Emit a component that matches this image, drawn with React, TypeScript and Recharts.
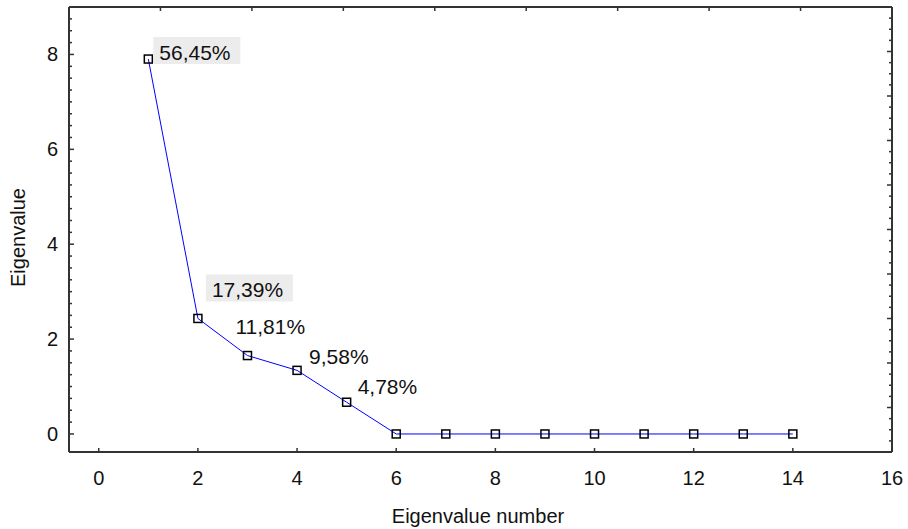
import { LineChart, Line, XAxis, YAxis, LabelList } from "recharts";

const eigenNumbers = [1, 2, 3, 4, 5, 6, 7, 8, 9, 10, 11, 12, 13, 14];
const eigenValues = [7.903, 2.435, 1.653, 1.341, 0.669, 0, 0, 0, 0, 0, 0, 0, 0, 0];
const varianceShare = [56.45, 17.39, 11.81, 9.58, 4.78, null, null, null, null, null, null, null, null, null];

const xTicks = [0, 2, 4, 6, 8, 10, 12, 14, 16];
const yLabelTicks = [0, 2, 4, 6, 8];
const yTicks = Array.from({ length: 36 }, (_, i) => i * 0.25);
const topTicks = [1, 2, 3, 4, 5, 6, 7, 8];
const rightTicks = Array.from({ length: 39 }, (_, i) => i + 1);

const chartData = eigenNumbers.map((n, i) => ({
  n,
  value: eigenValues[i],
  pct: varianceShare[i],
}));

// label placement relative to the point, per eigenvalue
const labelLayout = [
  { dx: 11, dy: 1, bg: true },
  { dx: 14, dy: -21, bg: true },
  { dx: -12, dy: -22, bg: false },
  { dx: 12, dy: -6, bg: false },
  { dx: 11, dy: -8, bg: false },
];

const FONT = "'Liberation Sans', Arial, sans-serif";
const AXIS = "#333333";
const TEXT = "#111111";

const BottomTick = ({ x, y, payload }: any) => (
  <g>
    <line x1={x} x2={x} y1={y} y2={y - 4} stroke={AXIS} strokeWidth={1.5} />
    <text x={x} y={y + 33} textAnchor="middle" fontSize={20} fill={TEXT} fontFamily={FONT}>
      {payload.value}
    </text>
  </g>
);

const LeftTick = ({ x, y, payload }: any) => {
  const major = yLabelTicks.includes(payload.value);
  return (
    <g>
      <line x1={x} x2={x + (major ? 5 : 3)} y1={y} y2={y} stroke={AXIS} strokeWidth={1.5} />
      {major && (
        <text x={x - 11} y={y + 7} textAnchor="end" fontSize={20} fill={TEXT} fontFamily={FONT}>
          {payload.value}
        </text>
      )}
    </g>
  );
};

const TopTick = ({ x, y }: any) => (
  <line x1={x} x2={x} y1={y} y2={y + 4} stroke={AXIS} strokeWidth={1.5} />
);

const RightTick = ({ x, y, payload }: any) => {
  const major = payload.value % 4 === 0;
  return <line x1={x} x2={x - (major ? 5 : 3)} y1={y} y2={y} stroke={AXIS} strokeWidth={1.5} />;
};

const SquareDot = ({ cx, cy, index }: any) => (
  <rect key={index} x={cx - 4} y={cy - 4} width={8} height={8} fill="none" stroke="#000" strokeWidth={1.5} />
);

const PctLabel = ({ x, y, value, index }: any) => {
  if (value === null || value === undefined) return null;
  const lay = labelLayout[index];
  if (!lay) return null;
  const txt = value.toFixed(2).replace(".", ",") + "%";
  const tx = x + lay.dx;
  const ty = y + lay.dy;
  return (
    <g>
      {lay.bg && <rect x={tx - 6} y={ty - 23} width={87} height={27} fill="#ececec" />}
      <text x={tx} y={ty} fontSize={21} fill={TEXT} fontFamily={FONT}>
        {txt}
      </text>
    </g>
  );
};

export default function App() {
  return (
    <div style={{ position: "fixed", left: 0, top: 0, background: "#fff" }}>
      <LineChart
        width={908}
        height={529}
        data={chartData}
        margin={{ top: 6, right: 15, bottom: 0, left: 0 }}
        style={{ fontFamily: FONT }}
      >
        <XAxis
          xAxisId="bottom"
          dataKey="n"
          type="number"
          domain={[-0.6, 16]}
          ticks={xTicks}
          interval={0}
          height={77}
          tickSize={0}
          tickMargin={0}
          tickLine={false}
          tick={<BottomTick />}
          axisLine={{ stroke: AXIS, strokeWidth: 2 }}
          allowDataOverflow
        />
        <XAxis
          xAxisId="top"
          dataKey="n"
          orientation="top"
          type="number"
          domain={[0, 9]}
          ticks={topTicks}
          interval={0}
          height={1}
          tickSize={0}
          tickMargin={0}
          tickLine={false}
          tick={<TopTick />}
          axisLine={{ stroke: AXIS, strokeWidth: 2 }}
          allowDataOverflow
        />
        <YAxis
          yAxisId="left"
          type="number"
          domain={[-0.38, 9]}
          ticks={yTicks}
          interval={0}
          width={69}
          tickSize={0}
          tickMargin={0}
          tickLine={false}
          tick={<LeftTick />}
          axisLine={{ stroke: AXIS, strokeWidth: 2 }}
          allowDataOverflow
          label={{
            value: "Eigenvalue",
            angle: -90,
            position: "insideLeft",
            dx: 13,
            dy: 8,
            style: { fontSize: 20, fill: TEXT, fontFamily: FONT, textAnchor: "middle" },
          }}
        />
        <YAxis
          yAxisId="right"
          orientation="right"
          type="number"
          domain={[0, 40]}
          ticks={rightTicks}
          interval={0}
          width={1}
          tickSize={0}
          tickMargin={0}
          tickLine={false}
          tick={<RightTick />}
          axisLine={{ stroke: AXIS, strokeWidth: 2 }}
          allowDataOverflow
        />
        <text x={478} y={523} textAnchor="middle" fontSize={20} fill={TEXT} fontFamily={FONT}>
          Eigenvalue number
        </text>
        {/* invisible series so the frame axes (top/right) get drawn */}
        <Line
          xAxisId="top"
          yAxisId="right"
          dataKey="value"
          stroke="none"
          dot={false}
          activeDot={false}
          legendType="none"
          isAnimationActive={false}
        />
        <Line
          xAxisId="bottom"
          yAxisId="left"
          dataKey="value"
          stroke="#0000ff"
          strokeWidth={1}
          dot={<SquareDot />}
          activeDot={false}
          isAnimationActive={false}
        >
          <LabelList dataKey="pct" content={<PctLabel />} />
        </Line>
      </LineChart>
    </div>
  );
}
